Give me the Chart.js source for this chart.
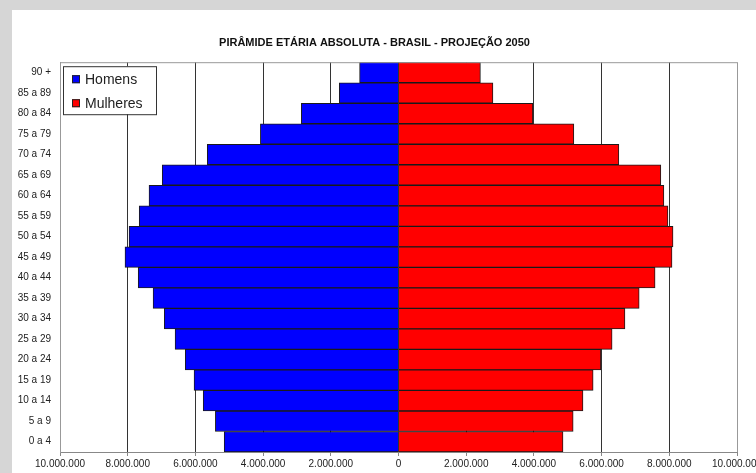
<!DOCTYPE html>
<html>
<head>
<meta charset="utf-8">
<script src="https://cdn.jsdelivr.net/npm/chart.js@4.4.0/dist/chart.umd.min.js"></script>
<style>
html, body { margin: 0; padding: 0; background: #d6d6d6; }
#quadro { position: absolute; left: 12px; top: 10px; width: 744px; height: 463px; background: #fff; }
</style>
</head>
<body>
<div id="quadro"><canvas id="piramide"></canvas></div>
<script>
// faixas etárias (de cima para baixo)
const faixas = ['90 +', '85 a 89', '80 a 84', '75 a 79', '70 a 74', '65 a 69', '60 a 64',
    '55 a 59', '50 a 54', '45 a 49', '40 a 44', '35 a 39', '30 a 34', '25 a 29',
    '20 a 24', '15 a 19', '10 a 14', '5 a 9', '0 a 4'];

// população projetada 2050
const homens = [1150000, 1750000, 2870000, 4080000, 5650000, 6980000, 7370000,
    7660000, 7960000, 8080000, 7690000, 7250000, 6920000, 6600000,
    6300000, 6040000, 5770000, 5410000, 5150000];
const mulheres = [2420000, 2790000, 3970000, 5180000, 6510000, 7750000, 7840000,
    7960000, 8110000, 8080000, 7580000, 7110000, 6690000, 6310000,
    5980000, 5750000, 5450000, 5160000, 4860000];

// eixo horizontal
const limiteX = 10000000;
const passoX = 2000000;

const fonte = "'Liberation Sans', Arial, sans-serif";

function milhar(v) {
    return String(Math.abs(v)).replace(/\B(?=(\d{3})+(?!\d))/g, '.');
}

// legenda com moldura dentro da área do gráfico
const legendaCaixa = {
    id: 'legendaCaixa',
    afterDraw(chart) {
        const c = chart.ctx;
        const x = chart.chartArea.left + 3, y = chart.chartArea.top + 4;
        c.save();
        c.fillStyle = '#fff';
        c.fillRect(x, y, 93, 48);
        c.strokeStyle = '#333';
        c.lineWidth = 1;
        c.strokeRect(x + 0.5, y + 0.5, 93, 48);
        c.font = '14px ' + fonte;
        c.textBaseline = 'middle';
        chart.data.datasets.forEach(function(ds, i) {
            const cy = y + 13 + i * 24;
            c.fillStyle = ds.backgroundColor;
            c.fillRect(x + 9, cy - 4, 8, 8);
            c.strokeStyle = '#222';
            c.strokeRect(x + 9.5, cy - 3.5, 7, 7);
            c.fillStyle = '#222';
            c.fillText(ds.label, x + 22, cy + 1);
        });
        // linha superior da área
        c.strokeStyle = '#999';
        c.beginPath();
        c.moveTo(chart.chartArea.left, chart.chartArea.top + 0.5);
        c.lineTo(chart.chartArea.right, chart.chartArea.top + 0.5);
        c.stroke();
        c.restore();
    }
};

const ctx = document.getElementById('piramide').getContext('2d');
const chart = new Chart(ctx, {
    type: 'bar',
    data: {
        labels: faixas,
        datasets: [{
            label: 'Homens',
            data: homens.map(v => -v),
            backgroundColor: '#0000ff',
            borderColor: '#1a1a1a',
            borderWidth: 1,
            barPercentage: 1,
            categoryPercentage: 1
        }, {
            label: 'Mulheres',
            data: mulheres,
            backgroundColor: '#ff0000',
            borderColor: '#1a1a1a',
            borderWidth: 1,
            barPercentage: 1,
            categoryPercentage: 1
        }]
    },
    options: {
        indexAxis: 'y',
        responsive: true,
        maintainAspectRatio: false,
        animation: false,
        layout: { padding: { top: 0, right: 19, bottom: 0, left: 0 } },
        plugins: {
            legend: { display: false },
            tooltip: { enabled: false },
            title: {
                display: true,
                text: 'PIRÂMIDE ETÁRIA ABSOLUTA - BRASIL - PROJEÇÃO 2050',
                color: '#111',
                font: { family: fonte, size: 11, weight: 'bold' },
                padding: { top: 26, bottom: 13 }
            }
        },
        scales: {
            x: {
                stacked: true,
                min: -limiteX,
                max: limiteX,
                afterFit(scale) {
                    scale.height = 21;
                    scale.paddingLeft = 0;
                    scale.paddingRight = 0;
                },
                ticks: {
                    stepSize: passoX,
                    maxRotation: 0,
                    autoSkip: false,
                    padding: 2,
                    color: '#222',
                    font: { family: fonte, size: 10 },
                    callback: v => milhar(v)
                },
                grid: {
                    color: c => (Math.abs(c.tick.value) === limiteX ? '#999' : '#333'),
                    tickColor: '#888',
                    tickLength: 4
                },
                border: { color: '#888' }
            },
            y: {
                stacked: true,
                afterFit(scale) {
                    scale.width = 48;
                },
                ticks: {
                    padding: 9,
                    color: '#222',
                    font: { family: fonte, size: 10 }
                },
                grid: { display: false, drawTicks: false },
                border: { display: true, color: '#999' }
            }
        }
    },
    plugins: [legendaCaixa]
});
</script>
</body>
</html>
